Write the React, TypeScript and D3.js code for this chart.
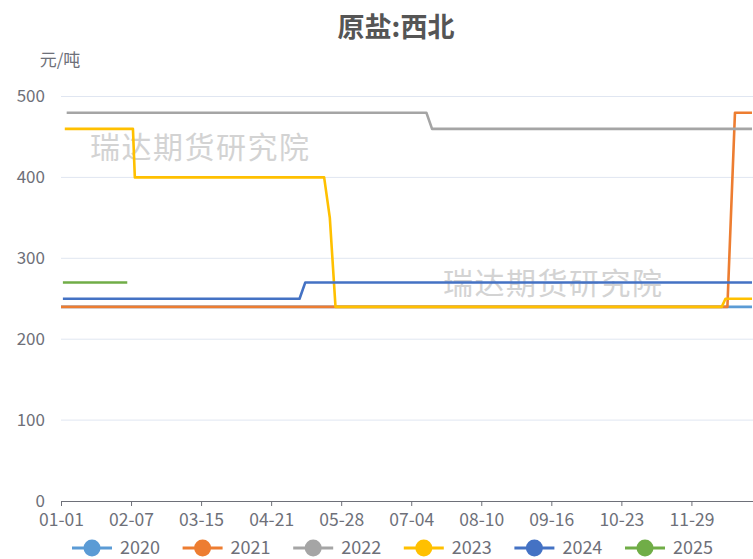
import * as d3 from 'd3';
import { useEffect, useRef } from 'react';

// 366 day labels of a leap year, "01-01" .. "12-31"
const categories = d3.timeDay
  .range(new Date(2020, 0, 1), new Date(2021, 0, 1))
  .map(d => d3.timeFormat('%m-%d')(d));

const xTickLabels = ['01-01', '02-07', '03-15', '04-21', '05-28', '07-04', '08-10', '09-16', '10-23', '11-29'];
const yTicks = [0, 100, 200, 300, 400, 500];

const seriesNames = ['2020', '2021', '2022', '2023', '2024', '2025'];
const seriesColors = ['#5B9BD5', '#ED7D31', '#A5A5A5', '#FFC000', '#4472C4', '#70AD47'];

// change points of each year's price (date, 元/吨)
const s2020: [string, number][] = [['01-01', 240], ['12-31', 240]];
const s2021: [string, number][] = [['01-01', 240], ['12-18', 240], ['12-22', 480], ['12-31', 480]];
const s2022: [string, number][] = [['01-04', 480], ['07-12', 480], ['07-15', 460], ['12-31', 460]];
const s2023: [string, number][] = [
  ['01-03', 460], ['02-08', 460], ['02-09', 400], ['05-19', 400], ['05-22', 350],
  ['05-25', 240], ['12-15', 240], ['12-17', 250], ['12-31', 250]
];
const s2024: [string, number][] = [['01-02', 250], ['05-06', 250], ['05-09', 270], ['12-31', 270]];
const s2025: [string, number][] = [['01-02', 270], ['02-05', 270]];

const allSeries = [s2020, s2021, s2022, s2023, s2024, s2025];

const W = 753;
const H = 559;
const left = 61;
const right = 752;
const top = 96.5;
const bottom = 501;

export default function App() {
  const svgRef = useRef<SVGSVGElement>(null);

  useEffect(() => {
    drawChart(svgRef.current!);
  }, []);

  return (
    <div style={{ position: 'absolute', left: 0, top: 0 }}>
      <svg ref={svgRef} width={W} height={H}></svg>
    </div>
  );
}

function drawChart(el: SVGSVGElement) {
  const font = '"Noto Sans CJK SC", "Noto Sans", sans-serif';
  const svg = d3.select(el);
  svg.selectAll('*').remove();
  svg.style('font-family', font).style('background', '#fff');

  const x = d3.scalePoint<string>().domain(categories).range([left, right]);
  const y = d3.scaleLinear().domain([0, 500]).range([bottom, top]);

  // title
  svg.append('text')
    .attr('x', 396).attr('y', 37)
    .attr('text-anchor', 'middle')
    .attr('font-size', 27).attr('font-weight', 'bold')
    .attr('fill', '#555')
    .text('原盐:西北');

  // unit
  svg.append('text')
    .attr('x', 60).attr('y', 66)
    .attr('text-anchor', 'middle')
    .attr('font-size', 17).attr('fill', '#6E7079')
    .text('元/吨');

  // grid
  svg.append('g')
    .selectAll('line')
    .data(yTicks.filter(t => t > 0))
    .enter()
    .append('line')
    .attr('x1', left).attr('x2', W)
    .attr('y1', d => y(d)).attr('y2', d => y(d))
    .attr('stroke', '#E0E6F1').attr('stroke-width', 1);

  // y axis labels
  const yAxis = d3.axisLeft(y).tickValues(yTicks).tickSize(0).tickPadding(16);
  const gy = svg.append('g').attr('transform', `translate(${left},0)`).call(yAxis);
  gy.select('.domain').remove();
  gy.selectAll('text').attr('font-size', 17).attr('fill', '#6E7079').attr('font-family', font)
    .attr('dy', '0.3em');

  // watermarks
  const wm = [[90, 145], [443, 281]];
  svg.append('g')
    .selectAll('text')
    .data(wm)
    .enter()
    .append('text')
    .attr('x', d => d[0]).attr('y', d => d[1])
    .attr('dominant-baseline', 'central')
    .attr('font-size', 30)
    .attr('letter-spacing', 1.5)
    .attr('fill', '#cccccc')
    .attr('opacity', 0.85)
    .text('瑞达期货研究院');

  // lines
  const line = d3.line<[string, number]>()
    .x(d => x(d[0])!)
    .y(d => y(d[1]));

  svg.append('g')
    .selectAll('path')
    .data(allSeries)
    .enter()
    .append('path')
    .attr('d', d => line(d))
    .attr('fill', 'none')
    .attr('stroke', (d, i) => seriesColors[i])
    .attr('stroke-width', 2.6)
    .attr('stroke-linejoin', 'round');

  // x axis
  const xAxis = d3.axisBottom(x).tickValues(xTickLabels).tickSize(5).tickPadding(8).tickSizeOuter(0);
  const gx = svg.append('g').attr('transform', `translate(0,${bottom})`).call(xAxis);
  gx.select('.domain').attr('stroke', '#6E7079').attr('d', `M${left},0.5H${W}`);
  gx.selectAll('line').attr('stroke', '#6E7079');
  gx.selectAll('text').attr('font-size', 17.5).attr('fill', '#6E7079').attr('font-family', font);

  // legend
  const lg = svg.append('g')
    .selectAll('g')
    .data(seriesNames)
    .enter()
    .append('g')
    .attr('transform', (d, i) => `translate(${72 + i * 110.6},548)`);
  lg.append('line')
    .attr('x1', 0).attr('x2', 40)
    .attr('stroke', (d, i) => seriesColors[i]).attr('stroke-width', 3);
  lg.append('circle')
    .attr('cx', 20).attr('r', 8.5)
    .attr('fill', (d, i) => seriesColors[i]);
  lg.append('text')
    .attr('x', 48).attr('dy', '0.35em')
    .attr('font-size', 18).attr('fill', '#6E7079')
    .text(d => d);
}
